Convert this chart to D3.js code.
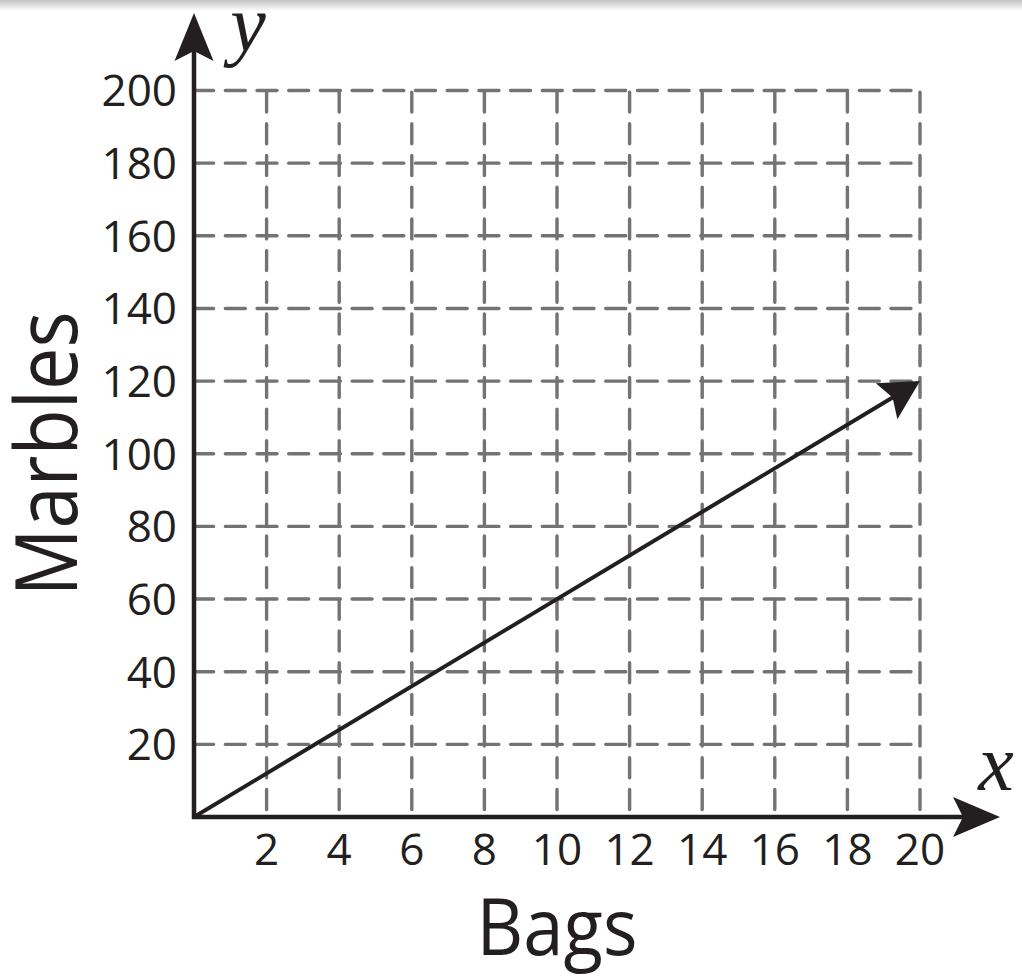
<!DOCTYPE html>
<html><head><meta charset="utf-8">
<script src="https://cdn.jsdelivr.net/npm/d3@7"></script>
<style>html,body{margin:0;padding:0;background:#fff;overflow:hidden}</style>
</head><body>
<svg id="c" width="1022" height="977"></svg>
<script>
const xTicks = [2,4,6,8,10,12,14,16,18,20];
const yTicks = [20,40,60,80,100,120,140,160,180,200];
const xDomain = [0,20];
const yDomain = [0,200];
const lineData = [{bags:0, marbles:0},{bags:20, marbles:120}];
const xTitle = "Bags", yTitle = "Marbles";

const svg = d3.select("#c");
const ink = "#231f20", gridC = "#737376";
const x = d3.scaleLinear().domain(xDomain).range([194, 920]);
const y = d3.scaleLinear().domain(yDomain).range([817, 90.5]);

// top shadow band
const defs = svg.append("defs");
const g0 = defs.append("linearGradient").attr("id","sh").attr("x1",0).attr("y1",0).attr("x2",0).attr("y2",1);
g0.append("stop").attr("offset",0).attr("stop-color","#c4c4c4");
g0.append("stop").attr("offset",1).attr("stop-color","#ffffff");
svg.append("rect").attr("x",0).attr("y",0).attr("width",1022).attr("height",11).attr("fill","url(#sh)");

// grid
const grid = svg.append("g").attr("stroke", gridC).attr("stroke-width",3.4).attr("fill","none").attr("stroke-linecap","round");
grid.selectAll("line.h").data(yTicks).join("line").attr("class","h")
  .attr("x1", x(0)-2).attr("x2", x(20)).attr("y1", d=>y(d)).attr("y2", d=>y(d))
  .attr("stroke-dasharray","20,11.7").attr("stroke-dashoffset",-1.6);
grid.selectAll("line.v").data(xTicks).join("line").attr("class","v")
  .attr("x1", d=>x(d)).attr("x2", d=>x(d)).attr("y1", y(200)).attr("y2", y(0))
  .attr("stroke-dasharray","20,11.7").attr("stroke-dashoffset",-1.6);

// axes
const ax = svg.append("g");
ax.append("line").attr("x1",x(0)).attr("x2",x(0)).attr("y1",y(0)+2).attr("y2",50)
  .attr("stroke",ink).attr("stroke-width",4.5);
ax.append("line").attr("x1",x(0)-2).attr("x2",965).attr("y1",y(0)).attr("y2",y(0))
  .attr("stroke",ink).attr("stroke-width",4.5);
function arrowHead(tx, ty, ux, uy, len, half, notch){
  const nx = -uy, ny = ux;
  const bx = tx - ux*len, by = ty - uy*len;
  const mx = tx - ux*notch, my = ty - uy*notch;
  return `M${tx},${ty}L${bx+nx*half},${by+ny*half}L${mx},${my}L${bx-nx*half},${by-ny*half}Z`;
}
ax.append("path").attr("d", arrowHead(x(0), 13, 0, -1, 48, 19.5, 38)).attr("fill",ink);
ax.append("path").attr("d", arrowHead(1000, y(0), 1, 0, 47, 20, 37)).attr("fill",ink);

// data line with arrow
const p0 = lineData[0], p1 = lineData[lineData.length-1];
const tx = x(p1.bags), ty = y(p1.marbles);
const dx = tx - x(p0.bags), dy = ty - y(p0.marbles);
const L = Math.hypot(dx,dy), ux = dx/L, uy = dy/L;
svg.append("line").attr("x1", x(p0.bags)).attr("y1", y(p0.marbles))
  .attr("x2", tx-ux*30).attr("y2", ty-uy*30).attr("stroke",ink).attr("stroke-width",4);
svg.append("path").attr("d", arrowHead(tx, ty, ux, uy, 39, 21, 32)).attr("fill",ink);

// tick labels
const font = "'Open Sans', 'Noto Sans', sans-serif";
svg.append("g").selectAll("text").data(yTicks).join("text")
  .attr("x",177).attr("y",d=>y(d)).attr("dy","0.36em").attr("text-anchor","end")
  .attr("font-family",font).attr("font-size",44).attr("fill",ink)
  .text(d=>d);
svg.append("g").selectAll("text").data(xTicks).join("text")
  .attr("x",d=>x(d)).attr("y",865).attr("text-anchor","middle")
  .attr("font-family",font).attr("font-size",44).attr("fill",ink)
  .text(d=>d);

// titles
svg.append("text").attr("x",557).attr("y",955).attr("text-anchor","middle")
  .attr("font-family",font).attr("font-size",79).attr("fill",ink)
  .attr("textLength",161).attr("lengthAdjust","spacingAndGlyphs").text(xTitle);
svg.append("text").attr("transform","translate(77,454) rotate(-90)").attr("text-anchor","middle")
  .attr("font-family",font).attr("font-size",86).attr("fill",ink)
  .attr("textLength",285).attr("lengthAdjust","spacingAndGlyphs").text(yTitle);

// axis letters
const serif = "'Liberation Serif', 'DejaVu Serif', serif";
svg.append("text").attr("x",248).attr("y",51).attr("text-anchor","middle")
  .attr("font-family",serif).attr("font-style","italic").attr("font-size",80).attr("fill",ink).text("y");
svg.append("text").attr("x",996).attr("y",790).attr("text-anchor","middle")
  .attr("font-family",serif).attr("font-style","italic").attr("font-size",80).attr("fill",ink).text("x");
</script>
</body></html>
